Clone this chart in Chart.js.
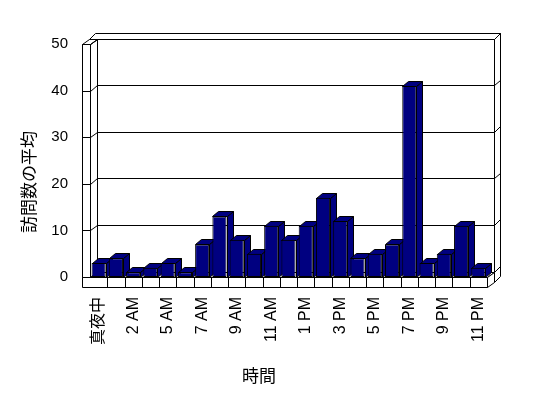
<!DOCTYPE html>
<html>
<head>
<meta charset="utf-8">
<script src="https://cdn.jsdelivr.net/npm/chart.js@4.4.1/dist/chart.umd.min.js"></script>
<style>
  html, body { margin: 0; padding: 0; background: #fff; }
</style>
</head>
<body>
<canvas id="grafico" width="548" height="398"></canvas>
<script>
// dados
const horas = ['真夜中', '1 AM', '2 AM', '4 AM', '5 AM', '6 AM', '7 AM', '8 AM', '9 AM', '10 AM', '11 AM', '12 PM',
  '1 PM', '2 PM', '3 PM', '4 PM', '5 PM', '6 PM', '7 PM', '8 PM', '9 PM', '10 PM', '11 PM'];
const visitas = [3, 4, 1, 2, 3, 1, 7, 13, 8, 5, 11, 8, 11, 17, 12, 4, 5, 7, 41, 3, 5, 11, 2];
const valoresY = [0, 10, 20, 30, 40, 50];
const tituloX = '時間';
const tituloY = '訪問数の平均';

const azul = '#000080';
const PX = 6.5, PY = 5.5;   // profundidade das paredes
const BX = 6, BY = 5;       // profundidade das barras
const px = v => Math.round(v) + 0.5;

function poligono(ctx, pts, fill) {
  ctx.beginPath();
  ctx.moveTo(px(pts[0][0]), px(pts[0][1]));
  for (let i = 1; i < pts.length; i++) ctx.lineTo(px(pts[i][0]), px(pts[i][1]));
  ctx.closePath();
  ctx.fillStyle = fill;
  ctx.fill();
  ctx.stroke();
}

function linha(ctx, x1, y1, x2, y2) {
  ctx.beginPath();
  ctx.moveTo(px(x1), px(y1));
  ctx.lineTo(px(x2), px(y2));
  ctx.stroke();
}

const moldura3d = {
  id: 'moldura3d',
  beforeDatasetsDraw(chart) {
    const { ctx, chartArea: a, scales: { x, y } } = chart;
    const L = a.left, R = a.right, T = a.top, B = a.bottom;
    const W = L - 8;      // face externa da parede esquerda
    const F = 10;         // espessura do piso
    ctx.save();
    ctx.lineWidth = 1;
    ctx.strokeStyle = '#000';

    // parede do fundo (topo e lado direito)
    poligono(ctx, [[W + PX, T - PY], [W + 2 * PX, T - 2 * PY], [R + 2 * PX, T - 2 * PY], [R + PX, T - PY]], '#fff');
    poligono(ctx, [[R + PX, T - PY], [R + 2 * PX, T - 2 * PY], [R + 2 * PX, B + F - 2 * PY], [R + PX, B + F - PY]], '#fff');
    valoresY.forEach(v => {
      const yy = y.getPixelForValue(v);
      linha(ctx, R + PX, yy - PY, R + 2 * PX, yy - 2 * PY);
    });

    // parede do fundo com linhas de grade
    poligono(ctx, [[L + PX, T - PY], [R + PX, T - PY], [R + PX, B - PY], [L + PX, B - PY]], '#fff');
    valoresY.forEach(v => {
      const yy = y.getPixelForValue(v);
      linha(ctx, L + PX, yy - PY, R + PX, yy - PY);
    });

    // piso
    poligono(ctx, [[W, B], [W + PX, B - PY], [R + PX, B - PY], [R, B]], '#fff');
    poligono(ctx, [[R, B], [R + PX, B - PY], [R + PX, B + F - PY], [R, B + F]], '#fff');
    poligono(ctx, [[W, B], [R, B], [R, B + F], [W, B + F]], '#fff');
    for (let i = 0; i < horas.length - 1; i++) {
      const xx = (x.getPixelForValue(i) + x.getPixelForValue(i + 1)) / 2;
      linha(ctx, xx, B, xx, B + F);
    }

    // parede esquerda
    poligono(ctx, [[L, T], [L + PX, T - PY], [L + PX, B - PY], [L, B]], '#fff');
    poligono(ctx, [[W, T], [W + PX, T - PY], [L + PX, T - PY], [L, T]], '#fff');
    poligono(ctx, [[W, T], [L, T], [L, B], [W, B]], '#fff');
    valoresY.forEach(v => {
      const yy = y.getPixelForValue(v);
      linha(ctx, W, yy, L, yy);
      linha(ctx, L, yy, L + PX, yy - PY);
    });

    // faces laterais e de cima das barras
    chart.getDatasetMeta(0).data.forEach(bar => {
      const p = bar.getProps(['x', 'y', 'base', 'width'], true);
      const l = p.x - p.width / 2, r = p.x + p.width / 2;
      poligono(ctx, [[r, p.y], [r + BX, p.y - BY], [r + BX, p.base - BY], [r, p.base]], azul);
      poligono(ctx, [[l, p.y], [l + BX, p.y - BY], [r + BX, p.y - BY], [r, p.y]], azul);
    });
    ctx.restore();
  },
  afterDraw(chart) {
    const { ctx } = chart;
    ctx.save();
    ctx.fillStyle = '#000';
    ctx.font = '17px "Noto Sans CJK JP"';
    ctx.textAlign = 'center';
    ctx.textBaseline = 'middle';
    ctx.fillText(tituloX, 259, 376);
    ctx.translate(29, 182);
    ctx.rotate(-Math.PI / 2);
    ctx.fillText(tituloY, 0, 0);
    ctx.restore();
  }
};

new Chart(document.getElementById('grafico'), {
  type: 'bar',
  data: {
    labels: horas,
    datasets: [{
      data: visitas,
      backgroundColor: azul,
      borderColor: '#000',
      borderWidth: 1,
      borderSkipped: false,
      barPercentage: 0.82,
      categoryPercentage: 1
    }]
  },
  options: {
    responsive: false,
    animation: false,
    devicePixelRatio: 1,
    layout: { padding: { top: 44, right: 61, left: 0, bottom: 0 } },
    plugins: { legend: { display: false }, tooltip: { enabled: false } },
    scales: {
      x: {
        grid: { display: false, drawTicks: false },
        border: { display: false },
        ticks: {
          autoSkip: false,
          maxRotation: 90,
          minRotation: 90,
          padding: 20,
          color: '#000',
          font: { family: '"Liberation Sans", "Noto Sans CJK JP"', size: 16 },
          callback: (v, i) => i % 2 === 0 ? horas[i] : ''
        },
        afterFit: s => { s.height = 121; }
      },
      y: {
        min: 0,
        max: 50,
        grid: { display: false, drawTicks: false },
        border: { display: false },
        ticks: {
          stepSize: 10,
          padding: 22,
          color: '#000',
          font: { family: '"Liberation Sans"', size: 15 }
        },
        afterFit: s => { s.width = 90; }
      }
    }
  },
  plugins: [moldura3d]
});
</script>
</body>
</html>
